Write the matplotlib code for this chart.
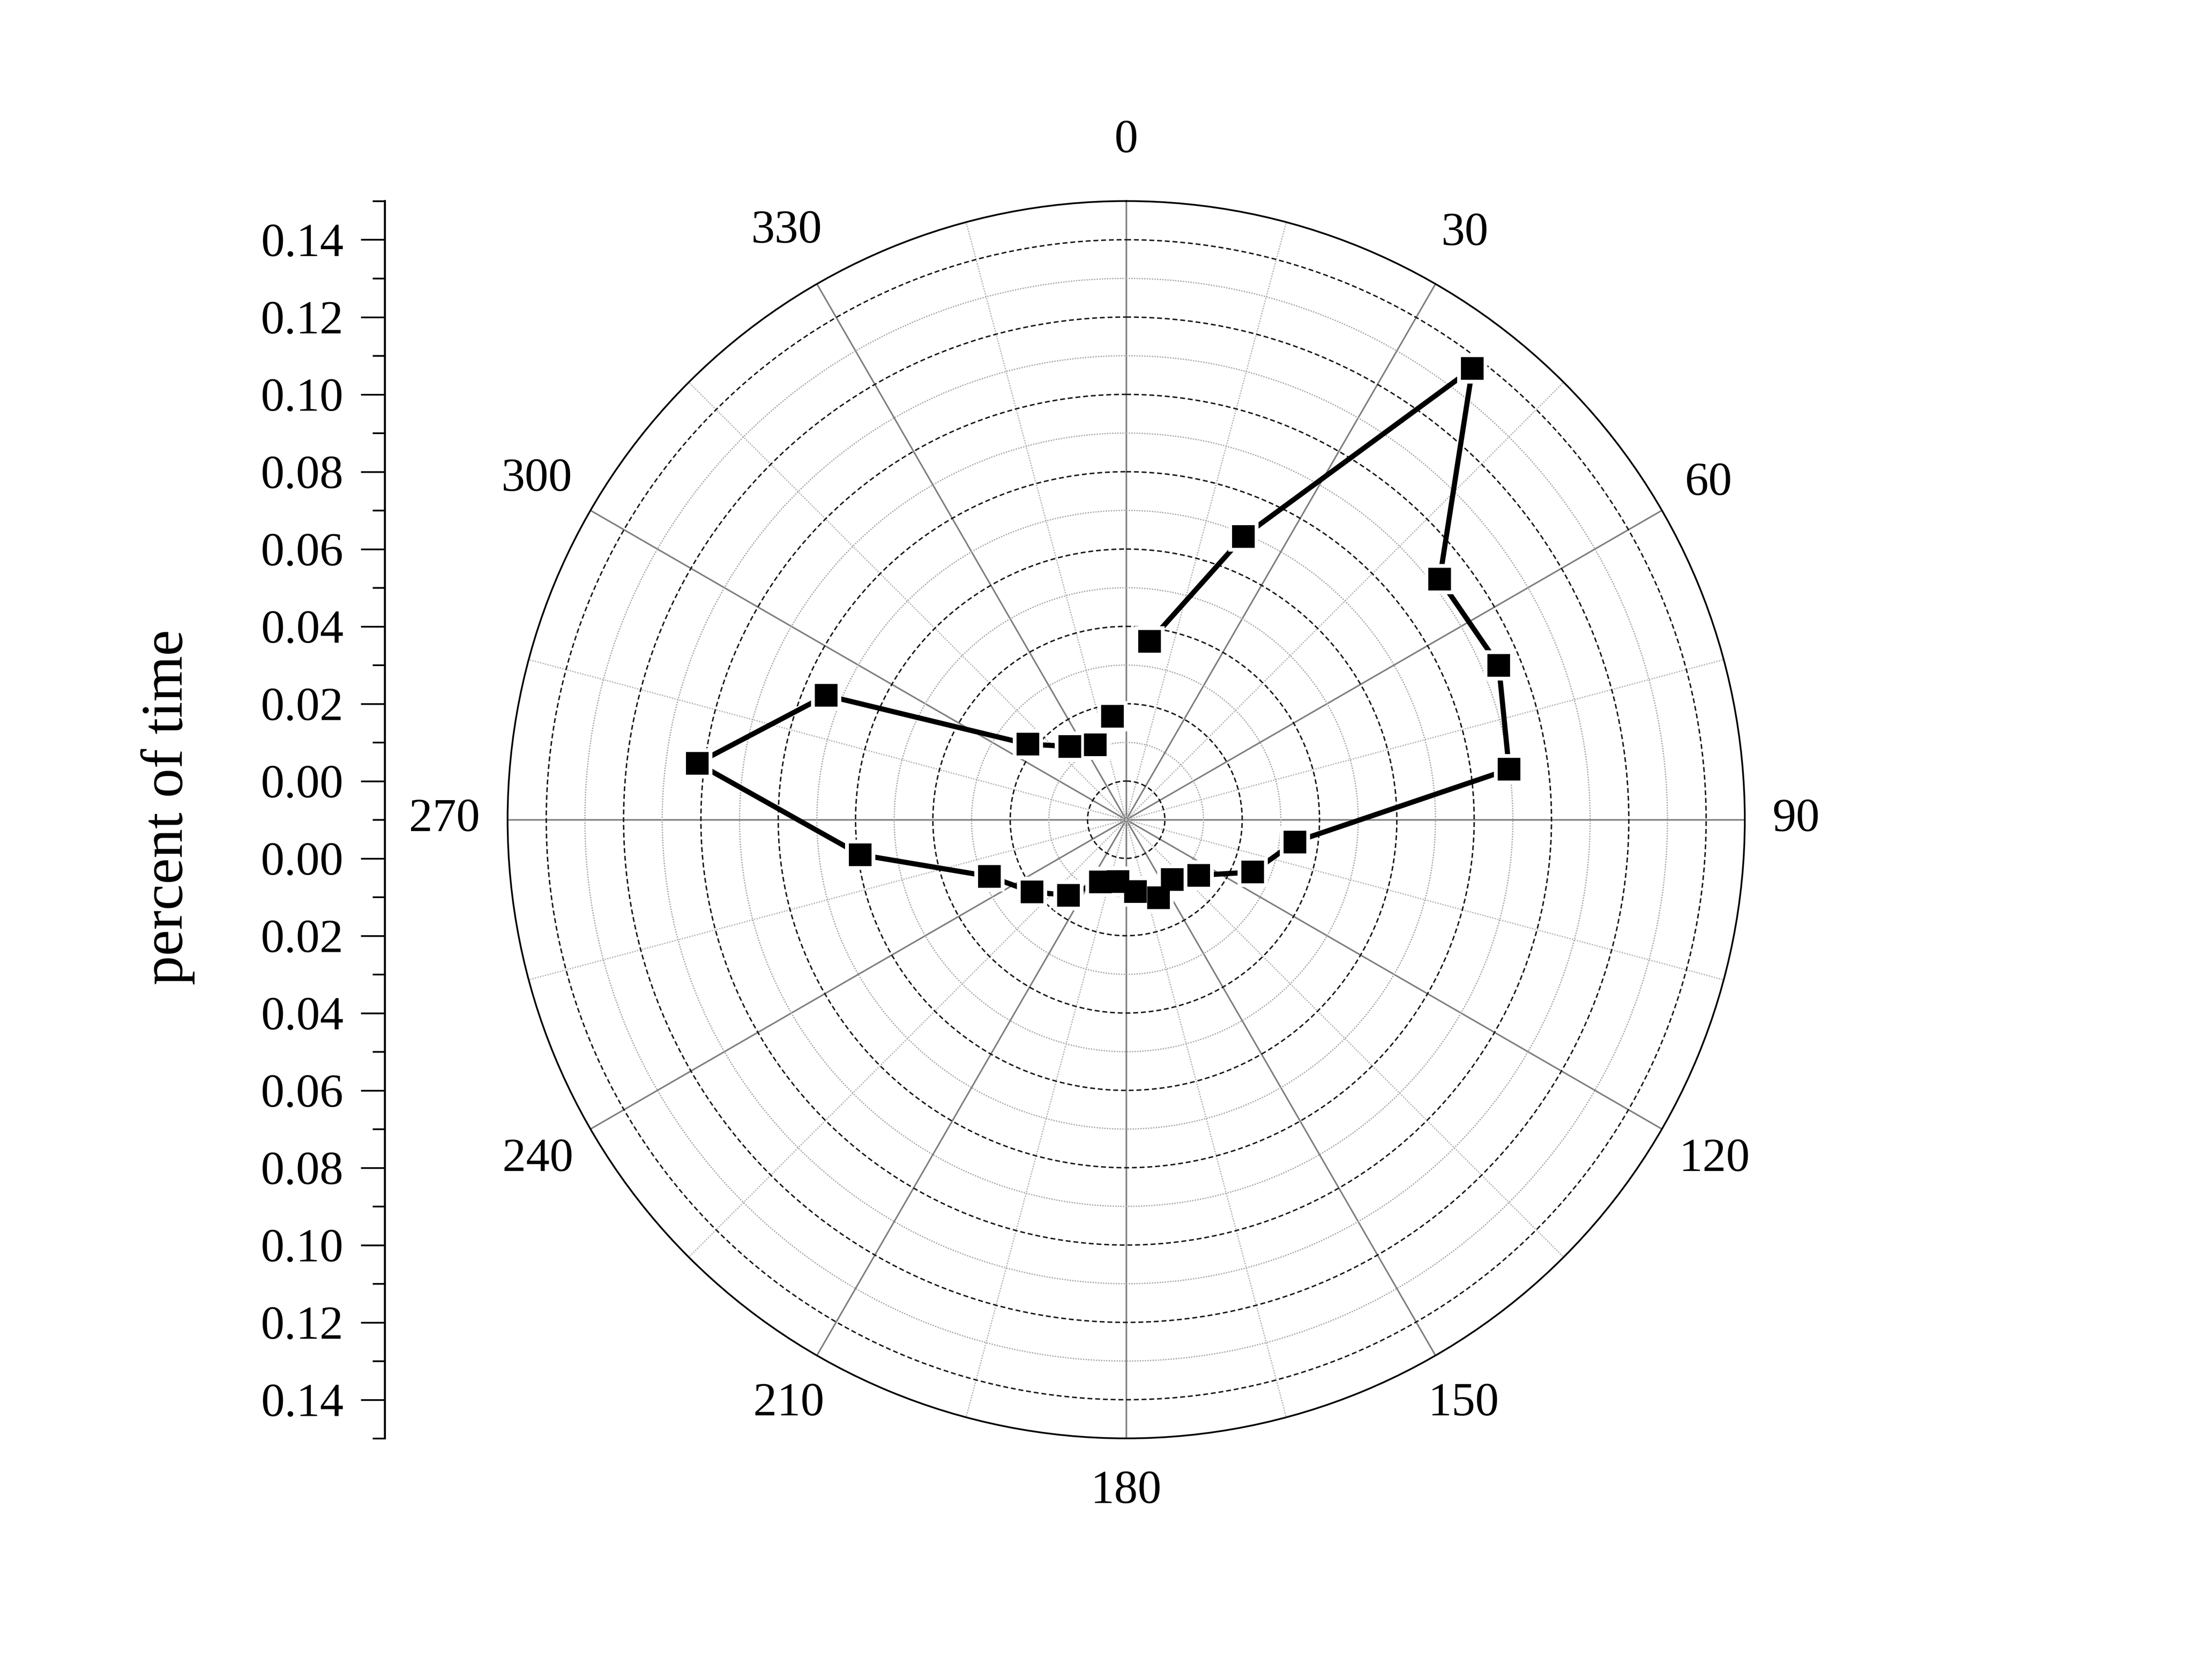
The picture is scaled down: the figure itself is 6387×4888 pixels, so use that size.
import numpy as np
import matplotlib
matplotlib.use("Agg")
import matplotlib.pyplot as plt

plt.rcParams['font.family'] = ['Liberation Serif', 'DejaVu Serif']

# ---- data ----
direction_deg = [7.5, 22.5, 37.5, 52.5, 67.5, 82.5, 97.5, 112.5, 127.5, 142.5,
                 157.5, 172.5, 187.5, 202.5, 217.5, 232.5, 247.5, 262.5, 277.5,
                 292.5, 307.5, 322.5, 337.5, 352.5]
percent_time = [0.0365, 0.0693, 0.1371, 0.0922, 0.0943, 0.0899, 0.0340, 0.0254,
                0.0136, 0.0095, 0.0118, 0.0087, 0.0061, 0.0074, 0.0146, 0.0207,
                0.0283, 0.0594, 0.1019, 0.0740, 0.0221, 0.0139, 0.0110, 0.0170]
angle_labels = [0, 30, 60, 90, 120, 150, 180, 210, 240, 270, 300, 330]
minor_angles = [15, 45, 75, 105, 135, 165, 195, 225, 255, 285, 315, 345]
r_major = [0.00, 0.02, 0.04, 0.06, 0.08, 0.10, 0.12, 0.14]
r_minor = [0.01, 0.03, 0.05, 0.07, 0.09, 0.11, 0.13]
left_minor = [0.01, 0.03, 0.05, 0.07, 0.09, 0.11, 0.13, 0.15]
r_min, r_max = -0.01, 0.15
ylabel = "percent of time"

W, H, DPI = 6387, 4888, 600
fig = plt.figure(figsize=(W / DPI, H / DPI), dpi=DPI)

cx, cy, R = 3277, 2385, 1800
left = (cx - R) / W
bottom = (H - (cy + R)) / H
ax = fig.add_axes([left, bottom, 2 * R / W, 2 * R / H], projection='polar')
ax.set_theta_zero_location('N')
ax.set_theta_direction(-1)
ax.set_ylim(r_min, r_max)

ax.set_xticks(np.deg2rad(angle_labels))
ax.set_xticks(np.deg2rad(minor_angles), minor=True)
ax.xaxis.set_ticklabels([])
ax.set_yticks(r_major)
ax.set_yticks(r_minor, minor=True)
ax.yaxis.set_ticklabels([])
ax.yaxis.set_ticklabels([], minor=True)

ax.yaxis.grid(True, which='major', color='#1a1a1a', linestyle=(0, (3.4, 2.0)), linewidth=0.5)
ax.yaxis.grid(True, which='minor', color='#a8a8a8', linestyle=(0, (1, 1)), linewidth=0.45)
ax.xaxis.grid(True, which='major', color='#808080', linestyle='-', linewidth=0.55)
ax.xaxis.grid(True, which='minor', color='#b4b4b4', linestyle=(0, (1, 1)), linewidth=0.45)
ax.set_axisbelow(True)

ax.tick_params(axis='x', which='major', direction='in', length=8.5, width=0.5, color='black')
ax.tick_params(axis='x', which='minor', direction='in', length=4.2, width=0.5, color='black')
ax.tick_params(axis='y', which='both', length=0)
ax.spines['polar'].set_linewidth(0.6)
ax.spines['polar'].set_color('black')

theta = np.deg2rad(direction_deg)
ax.plot(theta, percent_time, color='black', lw=1.8, solid_capstyle='round', zorder=3)
ax.plot(theta, percent_time, linestyle='none', marker='s', markersize=10.5,
        markerfacecolor='white', markeredgecolor='none', zorder=3.5)
ax.plot(theta, percent_time, linestyle='none', marker='s', markersize=8,
        markerfacecolor='black', markeredgecolor='none', zorder=4)

# angle labels: placed a fixed gap outside the rim, allowing for label size
span = (r_max - r_min)
for a in angle_labels:
    t = np.deg2rad(a)
    n = len(str(a))
    hv = 95 if np.cos(t) > 1e-6 else 75
    d_px = R + 80 + np.hypot(hv * np.cos(t), 34.5 * n * np.sin(t))
    r_lab = d_px / R * span + r_min
    ax.text(t, r_lab, str(a), ha='center', va='center', fontsize=16.5, clip_on=False)

# left mirrored radial scale
off = -r_min
lax = fig.add_axes([1120 / W, bottom, 1e-5, 2 * R / H])
lax.set_ylim(-(r_max + off), r_max + off)
lax.patch.set_visible(False)
for s in ['top', 'right', 'bottom']:
    lax.spines[s].set_visible(False)
lax.spines['left'].set_linewidth(0.7)
lax.set_xticks([])
pos = [off + v for v in r_major] + [-(off + v) for v in r_major]
labs = [f"{v:.2f}" for v in r_major] * 2
lax.set_yticks(pos, labs)
lax.set_yticks([0.0] + [off + v for v in left_minor] + [-(off + v) for v in left_minor], minor=True)
lax.tick_params(axis='y', which='major', direction='out', length=8.4, width=0.6,
                labelsize=16.5, pad=6)
lax.tick_params(axis='y', which='minor', direction='out', length=4.3, width=0.6)

fig.text(488 / W, 1 - 2349 / H, ylabel, rotation=90, ha='center', va='center', fontsize=20.5)

fig.savefig("out.png", dpi=DPI)
